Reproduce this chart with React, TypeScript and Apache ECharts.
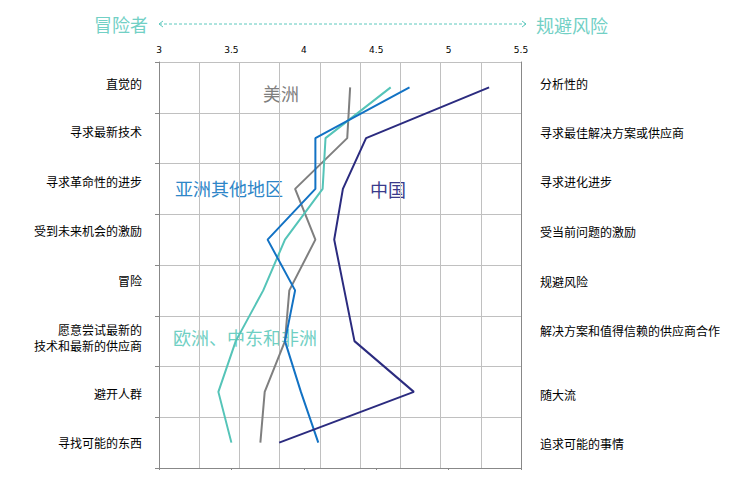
import React, { useEffect, useRef } from "react";
import * as echarts from "echarts";

// Category labels (left = risk takers, right = risk avoiders)
const leftLabels = [
  "直觉的",
  "寻求最新技术",
  "寻求革命性的进步",
  "受到未来机会的激励",
  "冒险",
  "愿意尝试最新的\n技术和最新的供应商",
  "避开人群",
  "寻找可能的东西",
];
const rightLabels = [
  "分析性的",
  "寻求最佳解决方案或供应商",
  "寻求进化进步",
  "受当前问题的激励",
  "规避风险",
  "解决方案和值得信赖的供应商合作",
  "随大流",
  "追求可能的事情",
];

// Scores per region
const americas = [4.32, 4.3, 3.94, 4.08, 3.9, 3.87, 3.73, 3.7];
const emea = [4.6, 4.15, 4.13, 3.87, 3.72, 3.53, 3.41, 3.5];
const restOfAsia = [4.73, 4.08, 4.08, 3.75, 3.94, 3.87, 3.98, 4.1];
const china = [5.28, 4.43, 4.27, 4.21, 4.28, 4.35, 4.76, 3.83];

// Top axis scale
const xMin = 3;
const xMax = 5.5;
const xStep = 0.5;

const CJK = '"Noto Sans CJK SC", "Noto Sans", sans-serif';

const App: React.FC = () => {
  const chartRef = useRef<HTMLDivElement>(null);

  useEffect(() => {
    document.body.style.margin = "0";
    if (!chartRef.current) return;
    const chart = echarts.init(chartRef.current, null, { renderer: "svg" });

    const leftY = [83, 131, 181, 230, 280, 337, 393, 442];
    const rightY = [83, 132, 181, 231, 281, 330, 394, 443];

    const lineSeries = (name: string, data: number[], color: string) => ({
      name,
      type: "line",
      data: data.map((v, i) => [v, i]),
      xAxisIndex: 0,
      yAxisIndex: 0,
      showSymbol: false,
      lineStyle: { color, width: 2 },
      itemStyle: { color },
    });

    const option = {
      animation: false,
      grid: { left: 159, right: 225, top: 62, bottom: 9 },
      xAxis: [
        {
          type: "value",
          position: "top",
          min: xMin,
          max: xMax,
          interval: xStep,
          axisLine: { show: true, lineStyle: { color: "#888", width: 1 } },
          axisTick: { show: false },
          splitLine: { show: false },
          axisLabel: {
            fontSize: 9,
            color: "#000",
            fontFamily: "DejaVu Sans",
            margin: 8,
            showMinLabel: true,
            showMaxLabel: true,
          },
        },
        {
          // light grid columns
          type: "value",
          position: "bottom",
          min: 0,
          max: 9,
          interval: 1,
          axisLine: { show: false },
          axisTick: { show: false },
          axisLabel: { show: false },
          splitLine: { show: true, lineStyle: { color: "#c0c0c0", width: 1 } },
        },
        {
          // small ticks under the plot
          type: "value",
          position: "bottom",
          min: xMin,
          max: xMax,
          interval: xStep,
          axisLine: { show: false },
          axisTick: { show: true, length: 2, lineStyle: { color: "#888" } },
          axisLabel: { show: false },
          splitLine: { show: false },
        },
      ],
      yAxis: [
        {
          type: "category",
          position: "left",
          inverse: true,
          data: leftLabels,
          boundaryGap: true,
          axisLine: { show: true, lineStyle: { color: "#888", width: 1 } },
          axisTick: { show: true, length: 4, lineStyle: { color: "#888" } },
          axisLabel: { show: false },
          splitLine: { show: false },
        },
        {
          // light grid rows, no bottom line
          type: "value",
          position: "left",
          min: 0,
          max: 8,
          interval: 1,
          axisLine: { show: false },
          axisTick: { show: false },
          axisLabel: { show: false },
          splitLine: {
            show: true,
            showMinLine: false,
            lineStyle: { color: "#c0c0c0", width: 1 },
          },
        },
        {
          type: "category",
          position: "right",
          inverse: true,
          data: rightLabels,
          axisLine: { show: true, lineStyle: { color: "#888", width: 1 } },
          axisTick: { show: false },
          axisLabel: { show: false },
          splitLine: { show: false },
        },
      ],
      series: [
        lineSeries("美洲", americas, "#7f7f7f"),
        lineSeries("欧洲、中东和非洲", emea, "#55c4b8"),
        lineSeries("亚洲其他地区", restOfAsia, "#1272c4"),
        lineSeries("中国", china, "#2b2b7f"),
      ],
      graphic: [
        // header: risk takers <-> risk avoiders
        {
          type: "text",
          x: 148,
          y: 24,
          style: {
            text: "冒险者",
            fill: "#72d0c5",
            font: `18px ${CJK}`,
            align: "right",
            verticalAlign: "middle",
          },
        },
        {
          type: "text",
          x: 536,
          y: 25,
          style: {
            text: "规避风险",
            fill: "#72d0c5",
            font: `18px ${CJK}`,
            align: "left",
            verticalAlign: "middle",
          },
        },
        {
          type: "line",
          shape: { x1: 159, y1: 24, x2: 526, y2: 24 },
          style: { stroke: "#5cc8bd", lineWidth: 1, lineDash: [3, 2] },
        },
        {
          type: "polyline",
          shape: { points: [[163, 21], [159, 24], [163, 27]] },
          style: { stroke: "#5cc8bd", lineWidth: 1, fill: "none" },
        },
        {
          type: "polyline",
          shape: { points: [[522, 21], [526, 24], [522, 27]] },
          style: { stroke: "#5cc8bd", lineWidth: 1, fill: "none" },
        },
        // series names inside the plot
        {
          type: "text",
          x: 263,
          y: 93,
          style: { text: "美洲", fill: "#7f7f7f", font: `18px ${CJK}`, verticalAlign: "middle" },
        },
        {
          type: "text",
          x: 175,
          y: 188,
          style: { text: "亚洲其他地区", fill: "#2e86c8", font: `18px ${CJK}`, verticalAlign: "middle" },
        },
        {
          type: "text",
          x: 370,
          y: 189,
          style: { text: "中国", fill: "#3a3a8c", font: `18px ${CJK}`, verticalAlign: "middle" },
        },
        {
          type: "text",
          x: 173,
          y: 337,
          style: { text: "欧洲、中东和非洲", fill: "#6fcfc3", font: `18px ${CJK}`, verticalAlign: "middle" },
        },
        // left / right category labels
        ...leftLabels.map((t, i) => ({
          type: "text",
          x: 142,
          y: leftY[i],
          style: {
            text: t,
            fill: "#000",
            font: `12px ${CJK}`,
            align: "right",
            verticalAlign: "middle",
            lineHeight: 16,
          },
        })),
        ...rightLabels.map((t, i) => ({
          type: "text",
          x: 540,
          y: rightY[i],
          style: {
            text: t,
            fill: "#000",
            font: `12px ${CJK}`,
            align: "left",
            verticalAlign: "middle",
          },
        })),
      ],
    };

    chart.setOption(option as any);

    return () => {
      chart.dispose();
    };
  }, []);

  return <div ref={chartRef} style={{ width: 746, height: 477 }} />;
};

export default App;
